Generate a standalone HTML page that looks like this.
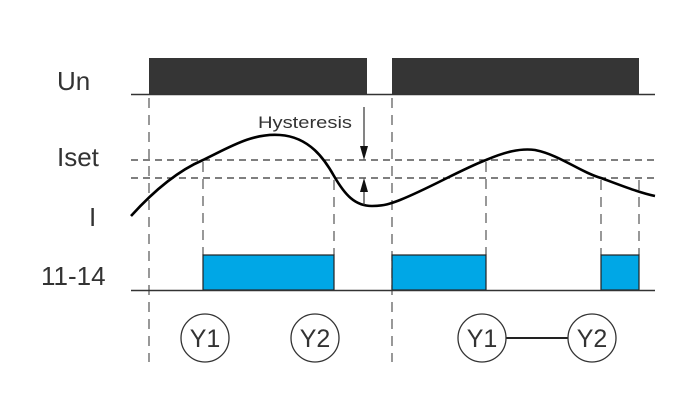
<!DOCTYPE html>
<html><head><style>
html,body{margin:0;padding:0;background:#fff;}
svg{display:block;}
text{font-family:"Liberation Sans",sans-serif;fill:#333;}
</style></head><body>
<svg width="700" height="418" viewBox="0 0 700 418" xmlns="http://www.w3.org/2000/svg">
<g font-size="26">
<text x="57" y="90">Un</text>
<text x="57" y="166">Iset</text>
<text x="89" y="226">I</text>
<text x="41" y="285">11-14</text>
</g>
<rect x="149" y="58" width="218" height="36" fill="#353535"/>
<rect x="392" y="58" width="247" height="36" fill="#353535"/>
<line x1="131" y1="94.5" x2="655" y2="94.5" stroke="#333" stroke-width="1.5"/>
<g stroke="#333" stroke-width="1.2" stroke-dasharray="7,5" fill="none">
<line x1="131" y1="160" x2="655" y2="160"/>
<line x1="131" y1="178" x2="655" y2="178"/>
</g>
<g stroke="#555" stroke-width="1.2" stroke-dasharray="10,7" fill="none">
<line x1="149" y1="98" x2="149" y2="362"/>
<line x1="392" y1="98" x2="392" y2="362"/>
<line x1="203" y1="162" x2="203" y2="255"/>
<line x1="334" y1="180" x2="334" y2="255"/>
<line x1="486" y1="162" x2="486" y2="255"/>
<line x1="601" y1="180" x2="601" y2="255"/>
<line x1="639" y1="180" x2="639" y2="255"/>
</g>
<rect x="203" y="255" width="131" height="35" fill="#00a7e6" stroke="#222" stroke-width="1.2"/>
<rect x="392" y="255" width="94" height="35" fill="#00a7e6" stroke="#222" stroke-width="1.2"/>
<rect x="601" y="255" width="38" height="35" fill="#00a7e6" stroke="#222" stroke-width="1.2"/>
<line x1="131" y1="290.5" x2="655" y2="290.5" stroke="#333" stroke-width="1.5"/>
<path d="M131,216 C150,195 175,172 203,160 C230,147 252,133 280,135 C310,137 325,160 334,176 C345,195 355,206 372,206 C385,206 392,203 400,200 C430,188 460,170 486,160 C505,152 520,148 535,150 C560,155 580,172 601,178 C620,185 640,193 655,196" stroke="#000" stroke-width="2.6" fill="none"/>
<line x1="364" y1="107" x2="364" y2="152" stroke="#333" stroke-width="1.2"/>
<polygon points="360,146 368,146 364,160" fill="#111"/>
<line x1="364" y1="186" x2="364" y2="205" stroke="#333" stroke-width="1.2"/>
<polygon points="360,192 368,192 364,178" fill="#111"/>
<text x="258" y="128" font-size="17" textLength="94" lengthAdjust="spacingAndGlyphs">Hysteresis</text>
<line x1="506" y1="338" x2="568" y2="338" stroke="#222" stroke-width="2"/>
<g fill="#fff" stroke="#333" stroke-width="1.3">
<circle cx="205" cy="338" r="24"/>
<circle cx="315" cy="338" r="24"/>
<circle cx="482" cy="338" r="24"/>
<circle cx="592" cy="338" r="24"/>
</g>
<g font-size="25" text-anchor="middle">
<text x="205" y="347">Y1</text>
<text x="315" y="347">Y2</text>
<text x="482" y="347">Y1</text>
<text x="592" y="347">Y2</text>
</g>
</svg>
</body></html>
